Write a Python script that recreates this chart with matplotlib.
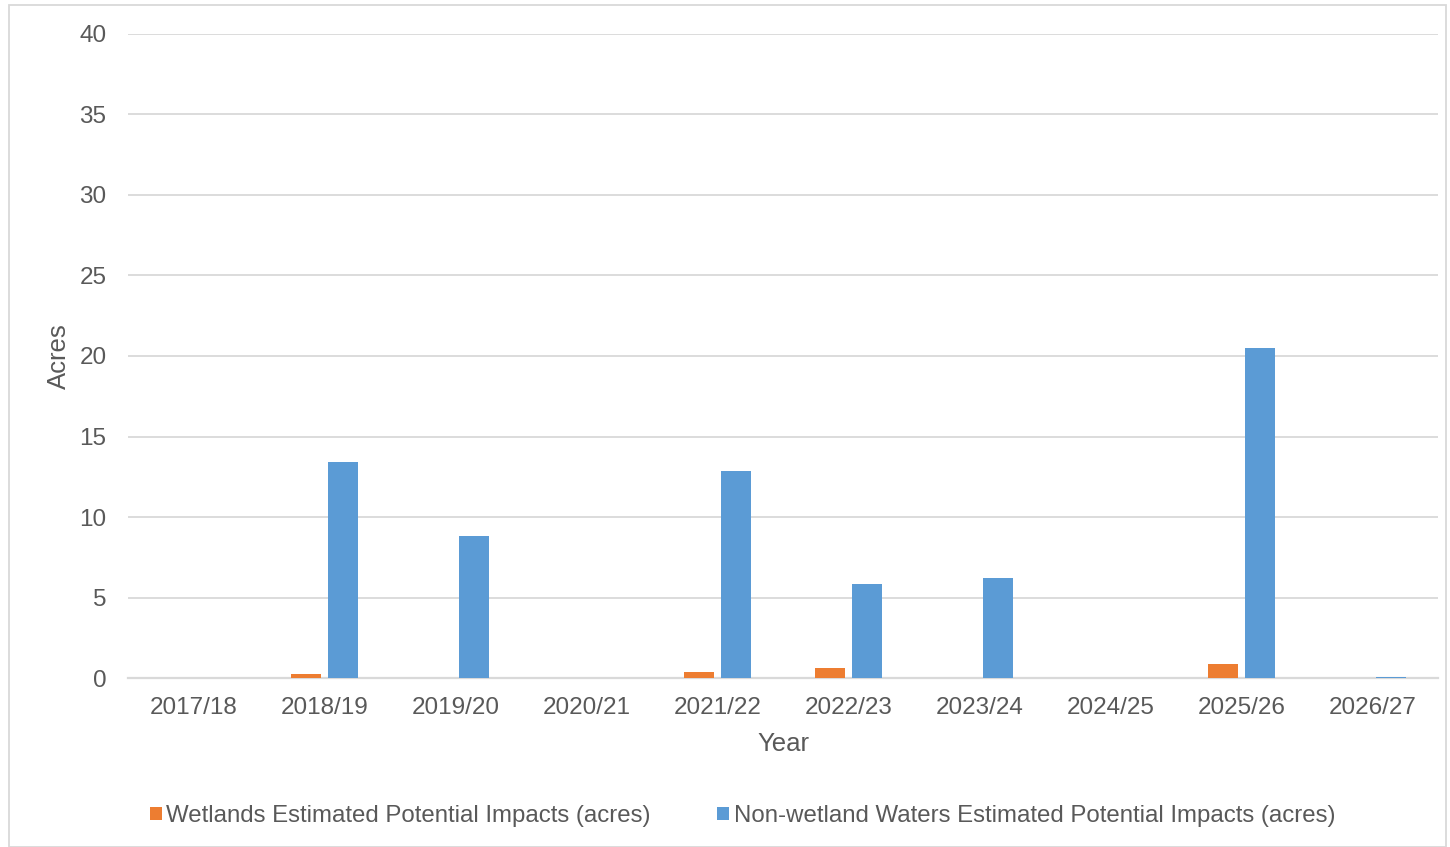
import matplotlib
matplotlib.use("Agg")
import matplotlib.pyplot as plt
import numpy as np
from matplotlib.patches import Rectangle

years = ["2017/18", "2018/19", "2019/20", "2020/21", "2021/22",
         "2022/23", "2023/24", "2024/25", "2025/26", "2026/27"]
wetlands = [0.0, 0.25, 0.0, 0.0, 0.35, 0.62, 0.0, 0.0, 0.87, 0.0]
non_wetland = [0.0, 13.4, 8.85, 0.0, 12.85, 5.85, 6.2, 0.0, 20.5, 0.08]

ORANGE = "#ED7D31"
BLUE = "#5B9BD5"
TEXT = "#595959"
GRID = "#D9D9D9"

plt.rcParams["font.family"] = ["Liberation Sans", "DejaVu Sans"]

fig = plt.figure(figsize=(14.5, 8.47), dpi=100)
ax = fig.add_axes([0.0883, 0.1995, 0.9034, 0.7604])

x = np.arange(len(years))
w = 0.228
gap = 0.055
ax.bar(x - (w + gap) / 2, wetlands, width=w, color=ORANGE,
       label="Wetlands Estimated Potential Impacts (acres)", zorder=3)
ax.bar(x + (w + gap) / 2, non_wetland, width=w, color=BLUE,
       label="Non-wetland Waters Estimated Potential Impacts (acres)", zorder=3)

ax.set_ylim(0, 40)
ax.set_yticks(np.arange(0, 41, 5))
ax.set_xlim(-0.5, len(years) - 0.5)
ax.set_xticks(x)
ax.set_xticklabels(years)

ax.yaxis.grid(True, color=GRID, linewidth=1.3, zorder=0)
ax.set_axisbelow(True)
for s in ["top", "right", "left"]:
    ax.spines[s].set_visible(False)
ax.spines["bottom"].set_color(GRID)
ax.spines["bottom"].set_linewidth(1.6)
ax.spines["bottom"].set_zorder(2.5)

ax.tick_params(axis="both", length=0, labelsize=17.5, labelcolor=TEXT)
ax.tick_params(axis="y", pad=15.5)
ax.tick_params(axis="x", pad=14)

ax.set_ylabel("Acres", fontsize=18.5, color=TEXT, labelpad=6)
ax.set_xlabel("Year", fontsize=18.5, color=TEXT, labelpad=9)

leg = fig.legend(loc="center", bbox_to_anchor=(0.512, 0.0365), ncol=2,
                 frameon=False, fontsize=17.3, handlelength=0.5,
                 handleheight=0.5, handletextpad=0.2, columnspacing=2.75)
for t in leg.get_texts():
    t.set_color(TEXT)

fig.patches.append(Rectangle((9 / 1450, 0), 1437 / 1450, 842 / 847,
                             transform=fig.transFigure, fill=False,
                             edgecolor=GRID, linewidth=1.3))

fig.savefig("out.png", dpi=100, facecolor="white")
